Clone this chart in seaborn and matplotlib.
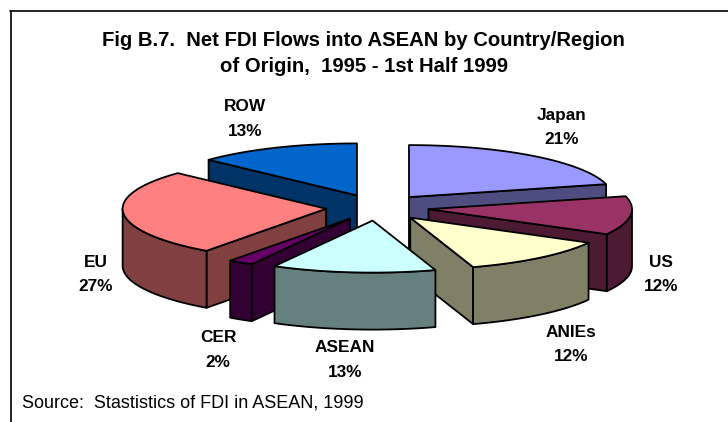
# Fig B.7 - pie 3D (exploded), FDI flows into ASEAN
import numpy as np
import matplotlib
matplotlib.use("Agg")
import matplotlib.pyplot as plt
import seaborn as sns

# data
negara = ["Japan", "US", "ANIEs", "ASEAN", "CER", "EU", "ROW"]
persen = [21, 12, 12, 13, 2, 27, 13]
warna_atas = ["#9999FF", "#993366", "#FFFFCC", "#CCFFFF", "#660066", "#FF8080", "#0066CC"]
warna_sisi = ["#4D4D80", "#4D1A33", "#808066", "#668080", "#330033", "#804040", "#003366"]
urutan_gambar = ["ROW", "Japan", "EU", "US", "CER", "ANIEs", "ASEAN"]

judul = "Fig B.7.  Net FDI Flows into ASEAN by Country/Region\nof Origin,  1995 - 1st Half 1999"
sumber = "Source:  Stastistics of FDI in ASEAN, 1999"

# posisi label (pixel)
posisi_label = {"Japan": (562, 127.5), "US": (661, 274.5), "ANIEs": (571, 344.5),
                "ASEAN": (345, 360), "CER": (218, 350), "EU": (96, 274.5), "ROW": (245, 119)}

# geometri pie
cx, cy = 377.4, 207.5
rx, ry = 203.5, 52
tebal = 57
explode = 51.5
k = ry / rx

sns.set_theme(style="white")
plt.rcParams['font.family'] = ['Liberation Sans', 'DejaVu Sans']

fig = plt.figure(figsize=(7.28, 4.22), dpi=100)
ax = fig.add_axes([0, 0, 1, 1])
ax.set_xlim(0, 728)
ax.set_ylim(422, 0)
ax.axis("off")


def titik(x0, y0, sudut):
    # sudut searah jarum jam dari atas
    return x0 + rx * np.sin(sudut), y0 - ry * np.cos(sudut)


def gambar_irisan(nama):
    i = negara.index(nama)
    total = sum(persen)
    a1 = np.deg2rad(sum(persen[:i]) / total * 360)
    a2 = np.deg2rad(sum(persen[:i + 1]) / total * 360)
    tengah = (a1 + a2) / 2
    x0 = cx + explode * np.sin(tengah)
    y0 = cy - explode * k * np.cos(tengah)
    gaya = dict(edgecolor="black", linewidth=1.3, joinstyle="round", facecolor=warna_sisi[i])

    # sisi potongan yang menghadap ke depan
    for sudut, kelihatan in [(a1, np.sin(a1) < -1e-6), (a2, np.sin(a2) > 1e-6)]:
        if kelihatan:
            px, py = titik(x0, y0, sudut)
            ax.fill([x0, px, px, x0], [y0, py, py + tebal, y0 + tebal], **gaya)

    # sisi lengkung, hanya bagian depan
    b1, b2 = max(a1, np.pi / 2), min(a2, 3 * np.pi / 2)
    if b1 < b2:
        t = np.linspace(b1, b2, 80)
        px, py = titik(x0, y0, t)
        ax.fill(np.r_[px, px[::-1]], np.r_[py, py[::-1] + tebal], **gaya)

    # permukaan atas
    t = np.linspace(a1, a2, 120)
    px, py = titik(x0, y0, t)
    ax.fill(np.r_[x0, px], np.r_[y0, py], facecolor=warna_atas[i], edgecolor="black",
            linewidth=1.3, joinstyle="round")


for nama in urutan_gambar:
    gambar_irisan(nama)

for nama, nilai in zip(negara, persen):
    x, y = posisi_label[nama]
    ax.text(x, y, f"{nama}\n{nilai}%", ha="center", va="center", fontsize=12.4,
            fontweight="bold", color="black", linespacing=1.78)

ax.text(363.5, 53.5, judul, ha="center", va="center", fontsize=14.55, fontweight="bold",
        color="black", linespacing=1.47)
ax.text(22, 403, sumber, ha="left", va="center", fontsize=13, color="black")

# bingkai: hanya kiri dan atas
ax.plot([10.5, 10.5], [11, 422], color="black", lw=1.2, clip_on=False)
ax.plot([10, 728], [11, 11], color="black", lw=1.2, clip_on=False)

fig.savefig("out.png", dpi=100)
